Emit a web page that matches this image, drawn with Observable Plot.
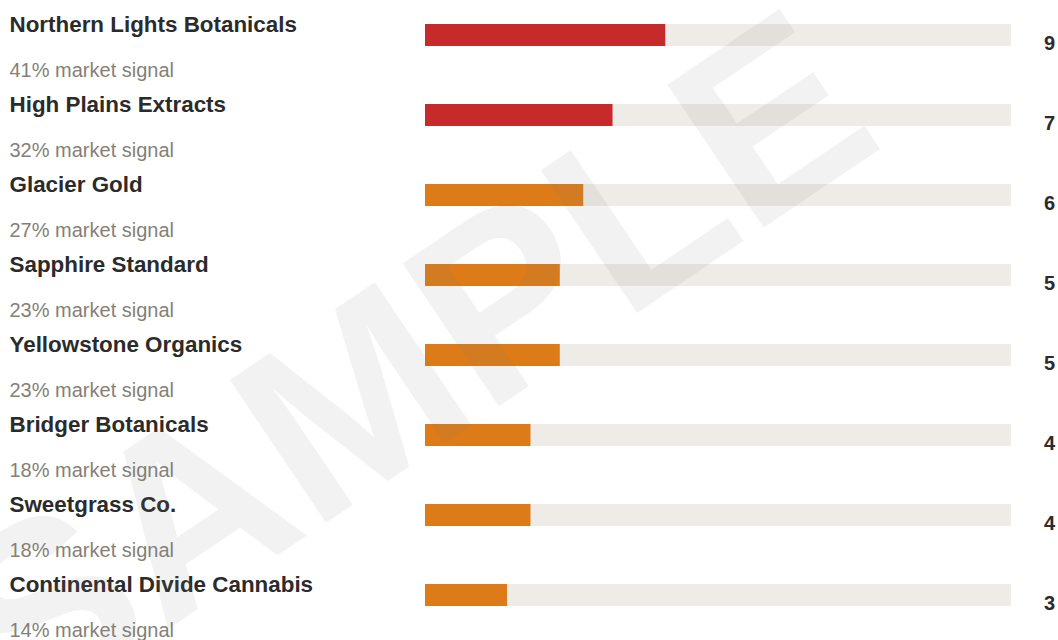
<!DOCTYPE html>
<html>
<head>
<meta charset="utf-8">
<script src="https://cdn.jsdelivr.net/npm/d3@7"></script>
<script src="https://cdn.jsdelivr.net/npm/@observablehq/plot@0.6"></script>
<style>
  html, body { margin: 0; padding: 0; background: #ffffff; }
  #chart svg { display: block; }
</style>
</head>
<body>
<div id="chart"></div>
<script>
const brands = [
  "Northern Lights Botanicals",
  "High Plains Extracts",
  "Glacier Gold",
  "Sapphire Standard",
  "Yellowstone Organics",
  "Bridger Botanicals",
  "Sweetgrass Co.",
  "Continental Divide Cannabis"
];
const signals = [41, 32, 27, 23, 23, 18, 18, 14];
const scores = [9, 7, 6, 5, 5, 4, 4, 3];
const tiers = ["lead", "lead", "core", "core", "core", "core", "core", "core"];
const watermark = ["SAMPLE"];

const rows = brands.map((b, i) => ({
  brand: b,
  signal: signals[i],
  score: scores[i],
  tier: tiers[i],
  sub: `${signals[i]}% market signal`
}));

const chart = Plot.plot({
  width: 1058,
  height: 640,
  margin: 0,
  x: {domain: [0, 100], range: [425, 1011], axis: null},
  y: {domain: brands, range: [0, 640], padding: 0, axis: null},
  color: {domain: ["lead", "core"], range: ["#c62a2a", "#dc7b17"]},
  style: {fontFamily: "'Liberation Sans', Arial, Helvetica, sans-serif", background: "#ffffff"},
  marks: [
    Plot.barX(rows, {x1: 0, x2: 100, y: "brand", fill: "#efebe6", insetTop: 24, insetBottom: 34}),
    Plot.barX(rows, {x1: 0, x2: "signal", y: "brand", fill: "tier", insetTop: 24, insetBottom: 34}),
    Plot.text(rows, {
      text: "brand", y: "brand", frameAnchor: "left", dx: 9, dy: -9,
      lineAnchor: "bottom", textAnchor: "start",
      fontSize: 22.4, fontWeight: "bold", fill: "#2b2b2b"
    }),
    Plot.text(rows, {
      text: "sub", y: "brand", frameAnchor: "left", dx: 9, dy: 36,
      lineAnchor: "bottom", textAnchor: "start",
      fontSize: 20, fill: "#857f79"
    }),
    Plot.text(rows, {
      text: d => String(d.score), y: "brand", frameAnchor: "right", dx: -9, dy: 9,
      lineAnchor: "bottom", textAnchor: "middle",
      fontSize: 20, fontWeight: "bold", fill: "#2b2b2b"
    }),
    Plot.text(watermark, {
      text: d => d, frameAnchor: "middle", dx: -118, dy: 48, rotate: -34,
      fontSize: 250, fontWeight: "bold", fill: "#808080", fillOpacity: 0.1,
      textAnchor: "middle", lineAnchor: "middle"
    })
  ]
});
document.getElementById("chart").appendChild(chart);
</script>
</body>
</html>
